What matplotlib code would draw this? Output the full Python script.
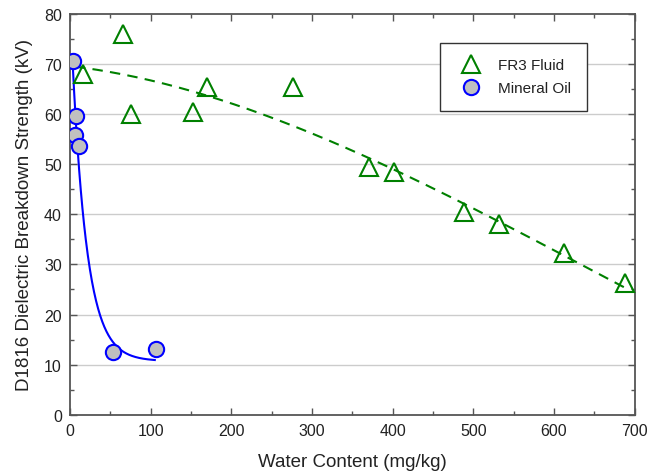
import numpy as np
import matplotlib.pyplot as plt
from matplotlib.ticker import MultipleLocator

plt.rcParams['font.family'] = ['Liberation Sans', 'DejaVu Sans']

# FR3 fluid measurements
fr3_water = [16, 66, 76, 152, 170, 276, 370, 401, 488, 532, 612, 688]
fr3_bd = [68.0, 76.1, 60.1, 60.5, 65.5, 65.5, 49.5, 48.5, 40.5, 38.1, 32.3, 26.3]

# mineral oil measurements
oil_water = [3, 7, 6, 11, 53, 106]
oil_bd = [70.7, 59.7, 55.8, 53.7, 12.5, 13.1]

# trend line for FR3, smoothed with a cubic
fr3_trend_x = [6, 165, 244, 326, 368, 384, 487, 611, 694]
fr3_trend_y = [69.5, 63.8, 59.8, 54.5, 51.5, 50.3, 41.6, 32.5, 24.6]

# exponential decay fit for mineral oil: y = base + amp * exp(-k (x - x0))
oil_base, oil_amp, oil_k, oil_x0, oil_x1 = 10.7, 60.0, 0.055, 3, 105

fig = plt.figure(figsize=(6.49, 4.77), dpi=100)
ax = fig.add_axes([0.108, 0.1285, 0.870, 0.840])

for y in range(10, 80, 10):
    ax.axhline(y, color='#cccccc', lw=1.0, zorder=0)

coef = np.polyfit(fr3_trend_x, fr3_trend_y, 3)
xs = np.linspace(fr3_trend_x[0], fr3_trend_x[-1], 200)
ax.plot(xs, np.polyval(coef, xs), '--', color='#008000', lw=1.5, dashes=(5, 3.5), zorder=2)

xo = np.linspace(oil_x0, oil_x1, 200)
ax.plot(xo, oil_base + oil_amp * np.exp(-oil_k * (xo - oil_x0)), '-', color='#0000ff', lw=1.5, zorder=2)

ax.plot(fr3_water, fr3_bd, '^', ms=13, mfc='none', mec='#008000', mew=1.5,
        ls='none', label='FR3 Fluid', zorder=3)
ax.plot(oil_water, oil_bd, 'o', ms=11, mfc='#c0c0c0', mec='#0000ff', mew=1.5,
        ls='none', label='Mineral Oil', zorder=4)

ax.set_xlim(0, 700)
ax.set_ylim(0, 80)
ax.xaxis.set_major_locator(MultipleLocator(100))
ax.xaxis.set_minor_locator(MultipleLocator(50))
ax.yaxis.set_major_locator(MultipleLocator(10))
ax.yaxis.set_minor_locator(MultipleLocator(5))
ax.tick_params(which='both', direction='in', top=True, right=True, color='#555555', width=1.0)
ax.tick_params(which='major', length=5, labelsize=11.5, pad=6, labelcolor='#222222')
ax.tick_params(which='minor', length=3)
for s in ax.spines.values():
    s.set_color('#555555')
    s.set_linewidth(1.3)

ax.set_xlabel('Water Content (mg/kg)', fontsize=13.5, labelpad=11, color='#222222')
ax.set_ylabel('D1816 Dielectric Breakdown Strength (kV)', fontsize=13.5, labelpad=8, color='#222222')

leg = ax.legend(loc='upper right', bbox_to_anchor=(0.915, 0.928), borderaxespad=0,
                fontsize=11, fancybox=False, edgecolor='#333333', framealpha=1,
                borderpad=1.0, handletextpad=0.8, labelspacing=0.6)
leg.get_frame().set_linewidth(1.0)
for t in leg.get_texts():
    t.set_color('#222222')

fig.savefig('out.png', dpi=100)
